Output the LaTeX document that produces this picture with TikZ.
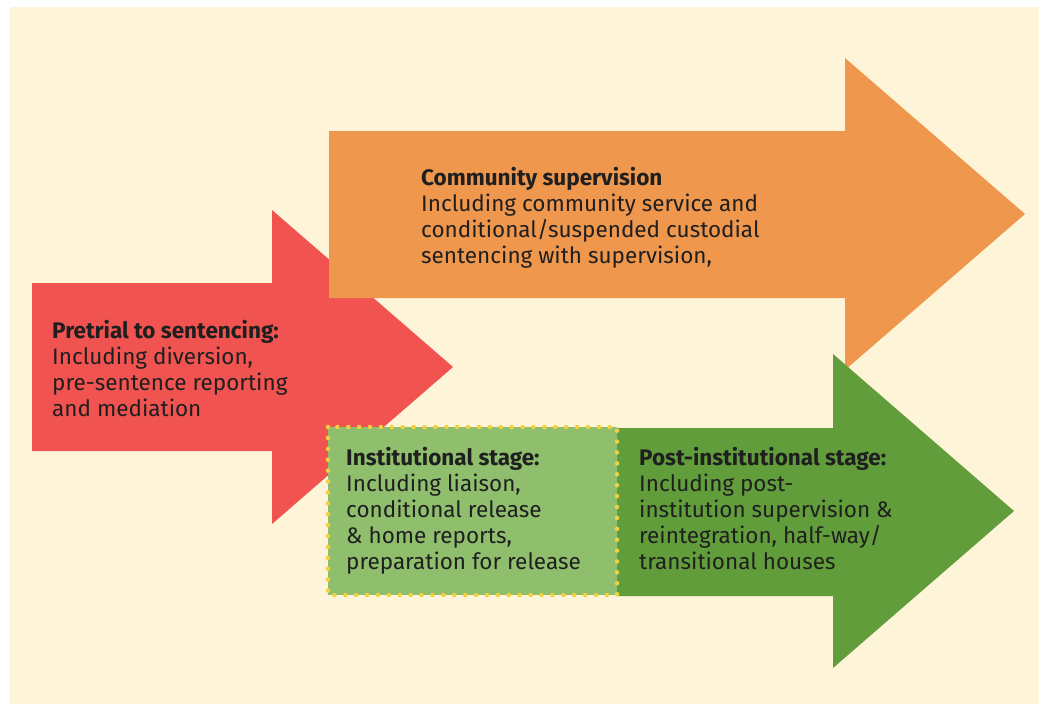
\documentclass[tikz,border=0pt]{standalone}
\usepackage{fontspec}
\setmainfont{Fira Sans}
\definecolor{cream}{HTML}{FEF5D9}
\definecolor{stagered}{HTML}{F05350}
\definecolor{stageorange}{HTML}{F0974E}
\definecolor{stagegreen}{HTML}{629D3B}
\definecolor{stagelight}{HTML}{8FBE6D}
\definecolor{dotyellow}{HTML}{F3D13E}
\definecolor{ink}{HTML}{1F1F1F}
\begin{document}
\begin{tikzpicture}[x=1pt,y=-1pt,
  stagetext/.style={anchor=north west,inner sep=0pt,align=left,text=ink,
    font=\fontsize{22.5}{26}\selectfont}]
\useasboundingbox (0,0) rectangle (1039,704);
% page background
\fill[cream,rounded corners=4pt] (9,7) rectangle (1060,730);
% red arrow: pretrial to sentencing
\fill[stagered] (32,283) -- (272,283) -- (272,210) -- (453,367) -- (272,524) -- (272,451) -- (32,451) -- cycle;
% orange arrow: community supervision
\fill[stageorange] (329,131) -- (845,131) -- (845,58) -- (1025,214) -- (845,370) -- (845,298) -- (329,298) -- cycle;
% dark green arrow: post-institutional stage
\fill[stagegreen] (617,428) -- (833,428) -- (833,354) -- (1014,511) -- (833,668) -- (833,596) -- (617,596) -- cycle;
% institutional stage box with dotted yellow border
\fill[stagelight] (328,427) rectangle (617,595);
\draw[dotyellow,line width=4.5pt,line cap=round,dash pattern=on 0pt off 10.9pt] (328,427) rectangle (617,595);
% texts
\node[stagetext] (community) at (421,167) {\textbf{Community supervision}\\Including community service and\\conditional/suspended custodial\\sentencing with supervision,};
\node[stagetext] (pretrial) at (52,320.5) {\textbf{Pretrial to sentencing:}\\Including diversion,\\pre-sentence reporting\\and mediation};
\node[stagetext] (institutional) at (346,447.5) {\textbf{Institutional stage:}\\Including liaison,\\conditional release\\\& home reports,\\preparation for release};
\node[stagetext] (postinst) at (639,447.5) {\textbf{Post-institutional stage:}\\Including post-\\institution supervision \&\\reintegration, half-way/\\transitional houses};
\end{tikzpicture}
\end{document}
